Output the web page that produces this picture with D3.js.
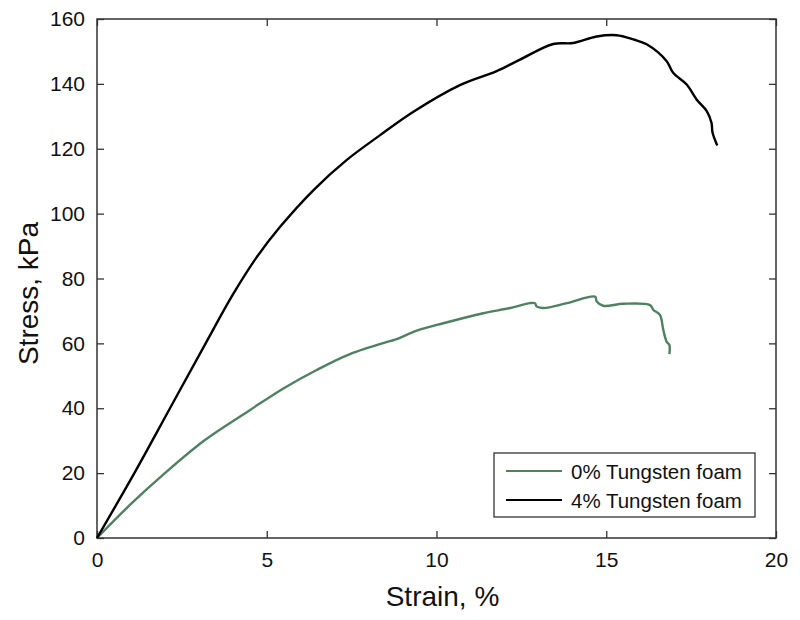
<!DOCTYPE html>
<html>
<head>
<meta charset="utf-8">
<script src="https://cdn.jsdelivr.net/npm/d3@7"></script>
<style>
  body { margin: 0; background: #fff; }
  text { font-family: "Liberation Sans", Arial, sans-serif; fill: #111; }
</style>
</head>
<body>
<div id="chart"></div>
<script>
// strain (%) / stress (kPa)
const strain0 = [0, 1, 2, 3.18, 4.5, 5.49, 6.47, 7.45, 8.63, 8.83, 9.42, 10.2, 11.38, 12.17, 12.75, 12.9, 12.95, 13.15, 13.84, 14.67, 14.72, 14.91, 15.5, 16.29, 16.39, 16.58, 16.68, 16.78, 16.86, 16.86];
const stress0 = [0, 10.5, 20, 30.2, 39.4, 46.1, 51.8, 56.7, 60.7, 61.3, 63.9, 66.2, 69.3, 70.9, 72.4, 72.4, 71.4, 70.9, 72.4, 74.4, 72.9, 71.6, 72.2, 71.8, 70.3, 68.8, 64.2, 60.5, 59.5, 56.7];

const strain4 = [0, 1.1, 2.15, 3.2, 4.0, 4.7, 5.4, 6.4, 7.35, 8.34, 9.32, 10.69, 11.77, 12.46, 13.44, 14.03, 14.72, 15.3, 15.8, 16.19, 16.78, 16.97, 17.37, 17.66, 17.96, 18.1, 18.13, 18.27];
const stress4 = [0, 20, 40, 60, 75, 86.5, 96, 107.5, 116.5, 124.2, 131.4, 139.6, 143.9, 147.5, 152.3, 152.6, 154.6, 155, 153.7, 152.2, 147, 143.4, 139.8, 135.2, 131.6, 128, 125, 121];

const xTicks = [0, 5, 10, 15, 20];
const yTicks = [0, 20, 40, 60, 80, 100, 120, 140, 160];
const seriesNames = ["0% Tungsten foam", "4% Tungsten foam"];
const seriesColors = ["#4f8060", "#000000"];

const width = 800, height = 620;
const margin = { top: 19, right: 24, bottom: 82, left: 97 };
const w = width - margin.left - margin.right;
const h = height - margin.top - margin.bottom;

const svg = d3.select("#chart").append("svg")
    .attr("width", width)
    .attr("height", height);

const g = svg.append("g")
    .attr("transform", `translate(${margin.left},${margin.top})`);

const x = d3.scaleLinear().domain([0, 20]).range([0, w]);
const y = d3.scaleLinear().domain([0, 160]).range([h, 0]);

function styleAxis(sel, showText) {
    sel.select(".domain").remove();
    sel.selectAll("line").attr("stroke", "#333").attr("stroke-width", 1.3);
    sel.selectAll("text").style("font-size", "21px").style("font-family", "Liberation Sans, Arial, sans-serif").attr("fill", "#111");
    if (!showText) sel.selectAll("text").remove();
}

// bottom + top
g.append("g").attr("transform", `translate(0,${h})`)
    .call(d3.axisBottom(x).tickValues(xTicks).tickSizeInner(-7).tickSizeOuter(0).tickPadding(14))
    .call(s => styleAxis(s, true));
g.append("g")
    .call(d3.axisTop(x).tickValues(xTicks).tickSizeInner(-7).tickSizeOuter(0))
    .call(s => styleAxis(s, false));
// left + right
g.append("g")
    .call(d3.axisLeft(y).tickValues(yTicks).tickSizeInner(-7).tickSizeOuter(0).tickPadding(12))
    .call(s => styleAxis(s, true));
g.append("g").attr("transform", `translate(${w},0)`)
    .call(d3.axisRight(y).tickValues(yTicks).tickSizeInner(-7).tickSizeOuter(0))
    .call(s => styleAxis(s, false));

g.append("rect")
    .attr("width", w).attr("height", h)
    .attr("fill", "none").attr("stroke", "#333").attr("stroke-width", 1.5);

const line = d3.line()
    .x(d => x(d[0]))
    .y(d => y(d[1]))
    .curve(d3.curveCatmullRom.alpha(0.5));

const data0 = strain0.map((s, i) => [s, stress0[i]]);
const data4 = strain4.map((s, i) => [s, stress4[i]]);

[data0, data4].forEach((d, i) => {
    g.append("path")
        .datum(d)
        .attr("d", line)
        .attr("fill", "none")
        .attr("stroke", seriesColors[i])
        .attr("stroke-width", 2.4)
        .attr("stroke-linejoin", "round");
});

// axis titles
svg.append("text")
    .attr("x", margin.left + w / 2 + 6)
    .attr("y", 606)
    .attr("text-anchor", "middle")
    .style("font-size", "28px")
    .text("Strain, %");

svg.append("text")
    .attr("transform", `translate(38, ${margin.top + h / 2 + 15}) rotate(-90)`)
    .attr("text-anchor", "middle")
    .style("font-size", "28px")
    .text("Stress, kPa");

// legend
const legend = svg.append("g").attr("transform", "translate(494,453)");
legend.append("rect")
    .attr("width", 261).attr("height", 64)
    .attr("fill", "#fff").attr("stroke", "#333").attr("stroke-width", 1.3);
seriesNames.forEach((name, i) => {
    const ly = 18 + i * 29;
    legend.append("line")
        .attr("x1", 12).attr("x2", 68)
        .attr("y1", ly).attr("y2", ly)
        .attr("stroke", seriesColors[i]).attr("stroke-width", 2.2);
    legend.append("text")
        .attr("x", 77).attr("y", ly + 7.5)
        .style("font-size", "20.5px")
        .text(name);
});
</script>
</body>
</html>
